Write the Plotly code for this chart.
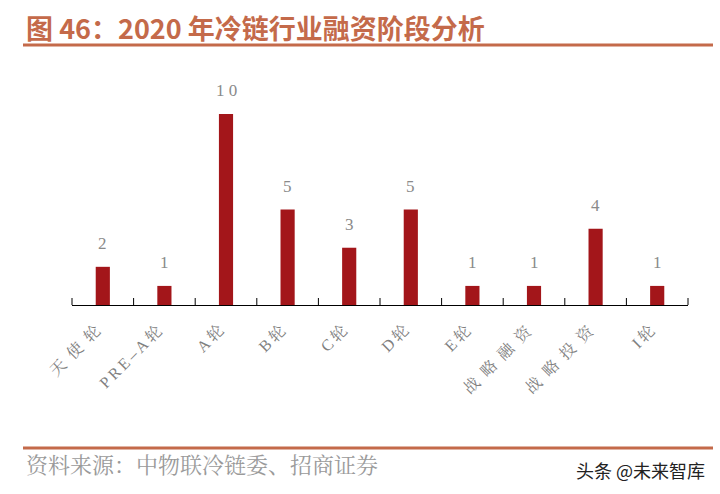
import plotly.graph_objects as go

categories = ["天使轮", "PRE-A轮", "A轮", "B轮", "C轮", "D轮", "E轮", "战略融资", "战略投资", "I轮"]
values = [2, 1, 10, 5, 3, 5, 1, 1, 4, 1]

title_text = "图 46：2020 年冷链行业融资阶段分析"
source_text = "资料来源：中物联冷链委、招商证券"
watermark_text = "头条 @未来智库"

W, H = 720, 494
L, R, T, B = 72, 32, 95, 189
pw, ph = W - L - R, H - T - B


def px_x(px):
    return (px - L) / pw


def px_y(py):
    return (H - B - py) / ph


def is_cjk(ch):
    return ord(ch) > 0x2E80


def spaced(label):
    label = label.replace("-", "\u2013")
    out = label[0]
    for a, b in zip(label, label[1:]):
        out += ("\u2002" if (is_cjk(a) and is_cjk(b)) else "\u2009") + b
    return out


serif = "Liberation Serif, Noto Serif CJK SC, Noto Sans CJK SC, serif"
accent = "#C46A4A"

fig = go.Figure()
fig.add_trace(go.Bar(
    x=categories, y=values, width=0.23,
    marker=dict(color="#A3161A", line=dict(width=0)),
))

for c, v in zip(categories, values):
    fig.add_annotation(x=c, y=v, text=" ".join(str(v)) if v >= 10 else str(v),
                       showarrow=False, yanchor="bottom", yshift=12,
                       font=dict(family=serif, size=17, color="#8a8a8a"))
    fig.add_annotation(x=c, y=0, text=spaced(c), textangle=-45,
                       showarrow=False, xanchor="right", yanchor="top",
                       xshift=4, yshift=-14,
                       font=dict(family=serif, size=16, color="#808080"))

n = len(categories)
for i in range(n + 1):
    fig.add_shape(type="line", xref="paper", yref="paper", x0=i / n, x1=i / n,
                  y0=0, y1=7 / ph, line=dict(color="black", width=1))

fig.add_annotation(xref="paper", yref="paper", x=px_x(24), y=px_y(27),
                   xanchor="left", yanchor="middle", showarrow=False,
                   text="<b>" + title_text + "</b>",
                   font=dict(family="Noto Sans CJK SC, Arial, sans-serif", size=27, color=accent))
fig.add_annotation(xref="paper", yref="paper", x=px_x(24), y=px_y(465),
                   xanchor="left", yanchor="middle", showarrow=False,
                   text=source_text,
                   font=dict(family=serif, size=22, color="#9a9a9a"))
fig.add_annotation(xref="paper", yref="paper", x=px_x(707), y=px_y(470),
                   xanchor="right", yanchor="middle", showarrow=False,
                   text=watermark_text,
                   font=dict(family="Noto Sans CJK SC, sans-serif", size=18, color="#222222"))

fig.add_shape(type="line", xref="paper", yref="paper",
              x0=px_x(23), x1=px_x(713), y0=px_y(45), y1=px_y(45),
              line=dict(color=accent, width=3))
fig.add_shape(type="line", xref="paper", yref="paper",
              x0=px_x(23), x1=px_x(713), y0=px_y(448), y1=px_y(448),
              line=dict(color=accent, width=3))

fig.update_layout(
    width=W, height=H,
    margin=dict(l=L, r=R, t=T, b=B),
    paper_bgcolor="white", plot_bgcolor="white",
    showlegend=False,
    xaxis=dict(showline=True, linecolor="black", linewidth=1,
               range=[-0.5, n - 0.5], ticks="",
               showticklabels=False, showgrid=False),
    yaxis=dict(range=[0, 11], visible=False, showgrid=False),
)

fig.write_html("out.html", config={"displayModeBar": False},
               post_script="document.body.style.margin='0';document.body.style.padding='0';")
